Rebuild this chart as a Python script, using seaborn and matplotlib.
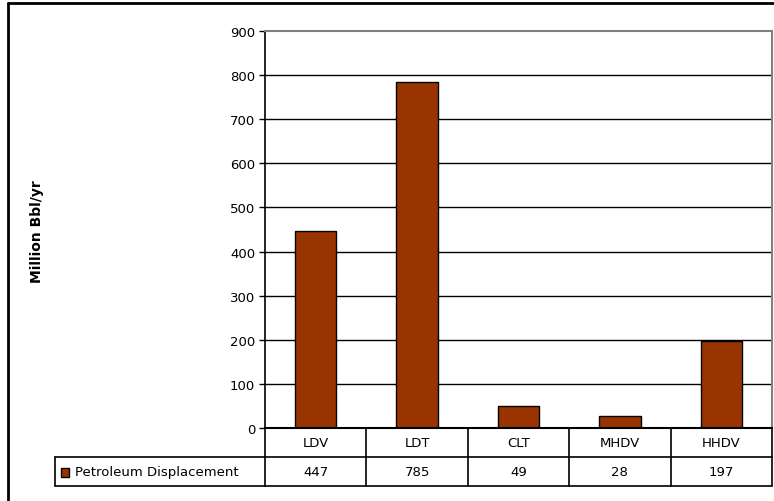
import matplotlib
matplotlib.use("Agg")
import numpy as np
import pandas as pd
import seaborn as sns
import matplotlib.pyplot as plt
from matplotlib.lines import Line2D
from matplotlib.patches import Rectangle
import matplotlib.transforms as mtransforms

# data
categories = ["LDV", "LDT", "CLT", "MHDV", "HHDV"]
values = [447, 785, 49, 28, 197]
series_name = "Petroleum Displacement"
yticks = [0, 100, 200, 300, 400, 500, 600, 700, 800, 900]

sns.set_theme(style="white")
plt.rcParams['font.family'] = ['DejaVu Sans']
plt.rcParams['text.color'] = 'black'
plt.rcParams['ytick.color'] = 'black'
plt.rcParams['xtick.color'] = 'black'
plt.rcParams['ytick.labelcolor'] = 'black'
FS = 9.5

df = pd.DataFrame({"cat": categories, "val": values})

W, H = 774, 502
fig = plt.figure(figsize=(W / 100, H / 100), dpi=100)
ax = fig.add_axes([265 / W, 1 - 429 / H, (772 - 265) / W, (429 - 32) / H])

sns.barplot(data=df, x="cat", y="val", ax=ax, color="#993300",
            edgecolor="black", linewidth=1, width=0.41, saturation=1)

ax.set_ylim(0, 900)
ax.set_xlim(-0.5, len(categories) - 0.5)
ax.set_yticks(yticks)
ax.set_yticklabels([str(t) for t in yticks], fontsize=FS, color="black")
ax.tick_params(axis="y", length=4, width=1, color="black", pad=3, left=True)
ax.set_axisbelow(True)
for t in yticks[1:-1]:
    ax.axhline(t, color="black", lw=1, zorder=0)
ax.axhline(900, color="#808080", lw=1.2, zorder=0)

for s in ["top", "right"]:
    ax.spines[s].set_color("#808080")
    ax.spines[s].set_linewidth(1.5)
ax.spines["left"].set_color("black")
ax.spines["left"].set_linewidth(1.2)
ax.spines["bottom"].set_color("black")
ax.spines["bottom"].set_linewidth(1.5)

ax.set_xticks([])
ax.set_xlabel("")
ax.set_ylabel("")
fig.text(37 / W, 1 - 232 / H, "Million Bbl/yr", rotation=90, fontsize=10,
         fontweight="bold", ha="center", va="center", color="black")

# data table below the axes
row_h = 29 / (429 - 32)  # in axes fraction
trans = mtransforms.blended_transform_factory(ax.transData, ax.transAxes)
n = len(categories)
lk = dict(color="black", lw=1.2, clip_on=False)
ax.plot([-0.5, n - 0.5], [-row_h, -row_h], transform=trans, **lk)
ax.plot([-0.5, n - 0.5], [-2 * row_h, -2 * row_h], transform=trans, **lk)
for i in range(n + 1):
    ax.plot([i - 0.5, i - 0.5], [0, -2 * row_h], transform=trans, **lk)
# legend cell
x_leg = (55 - 265) / (772 - 265)
ax.plot([x_leg, 0], [-row_h, -row_h], transform=ax.transAxes, **lk)
ax.plot([x_leg, 0], [-2 * row_h, -2 * row_h], transform=ax.transAxes, **lk)
ax.plot([x_leg, x_leg], [-row_h, -2 * row_h], transform=ax.transAxes, **lk)

for i, (c, v) in enumerate(zip(categories, values)):
    ax.text(i, -row_h / 2, c, transform=trans, ha="center", va="center", fontsize=FS)
    ax.text(i, -1.5 * row_h, str(v), transform=trans, ha="center", va="center", fontsize=FS)

ax.add_patch(Rectangle(((61 - 265) / (772 - 265), -1.5 * row_h - 0.014), 8 / 507, 9 / 397,
                       transform=ax.transAxes, facecolor="#993300", edgecolor="black",
                       lw=1, clip_on=False))
ax.text((75 - 265) / (772 - 265), -1.5 * row_h, series_name, transform=ax.transAxes,
        ha="left", va="center", fontsize=FS)

# outer chart border (cut off at right and bottom)
fig.add_artist(Line2D([8 / W, 8 / W], [0, 1 - 4 / H], color="black", lw=2))
fig.add_artist(Line2D([8 / W, 1], [1 - 4 / H, 1 - 4 / H], color="black", lw=2))

fig.savefig("out.png", dpi=100)
